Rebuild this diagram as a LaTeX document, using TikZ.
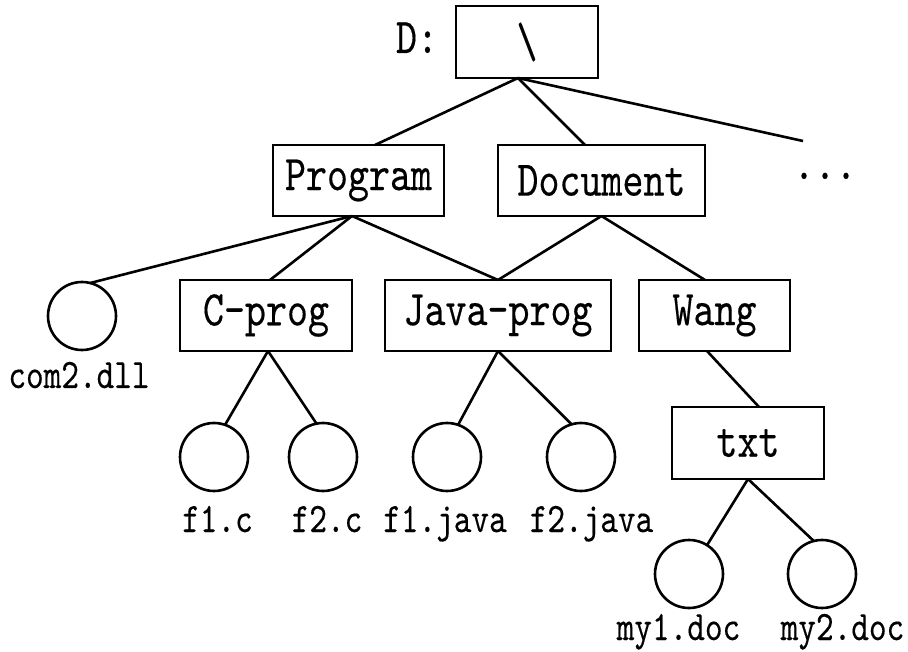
\documentclass[tikz,border=0pt]{standalone}
\usepackage{fontspec}
\newfontfamily\treefont[FakeStretch=0.8,FakeBold=0.3]{lmmono10-regular.otf}
\tikzset{
  every picture/.style={x=1pt,y=-1pt},
  conn/.style={line width=2.6pt},
  dirbox/.style={draw,line width=2.6pt,rectangle,inner sep=0pt,outer sep=0pt,
    font=\treefont\fontsize{50}{50}\selectfont},
  filecirc/.style={draw,line width=2.6pt,circle,inner sep=0pt,outer sep=0pt,minimum size=68pt},
  flabel/.style={anchor=base,inner sep=0pt,font=\treefont\fontsize{42}{42}\selectfont},
  blabel/.style={anchor=base,inner sep=0pt,font=\treefont\fontsize{50}{50}\selectfont}
}
\begin{document}
\begin{tikzpicture}
\useasboundingbox (0,0) rectangle (908,652);
% directory boxes
\node[dirbox,minimum width=142pt,minimum height=72pt] (root) at (527,42) {\textbackslash};
\node[blabel] (drive) at (417,53) {D:};
\node[dirbox,minimum width=171pt,minimum height=71pt] (prog) at (358.5,180.5) {Program};
\node[dirbox,minimum width=207pt,minimum height=71pt] (doc) at (601.5,180.5) {Document};
\node[blabel] (dots) at (825,179) {...};
\node[dirbox,minimum width=172pt,minimum height=71pt] (cprog) at (266,315.5) {C-prog};
\node[dirbox,minimum width=226pt,minimum height=71pt] (jprog) at (498,315.5) {Java-prog};
\node[dirbox,minimum width=151pt,minimum height=71pt] (wang) at (714.5,315.5) {Wang};
\node[dirbox,minimum width=152pt,minimum height=72pt] (txt) at (748,443) {txt};
% files
\node[filecirc] (com) at (82,316) {};
\node[filecirc] (fc1) at (214,457) {};
\node[filecirc] (fc2) at (323,457) {};
\node[filecirc] (fj1) at (447,457) {};
\node[filecirc] (fj2) at (581,457) {};
\node[filecirc] (my1) at (689,574) {};
\node[filecirc] (my2) at (822,574) {};
% file labels
\node[flabel] (lcom) at (79,388) {com2.dll};
\node[flabel] (lfc1) at (217.5,532) {f1.c};
\node[flabel] (lfc2) at (327,532) {f2.c};
\node[flabel] (lfj1) at (445,532) {f1.java};
\node[flabel] (lfj2) at (591.5,532) {f2.java};
\node[flabel] (lmy1) at (678.5,640) {my1.doc};
\node[flabel] (lmy2) at (842.5,640) {my2.doc};
\coordinate (more) at (803,141);
% connectors
\draw[conn] ([xshift=-9pt]root.south) -- ([xshift=16.5pt]prog.north);
\draw[conn] ([xshift=-9pt]root.south) -- ([xshift=-16.5pt]doc.north);
\draw[conn] ([xshift=-9pt]root.south) -- (more);
\draw[conn] ([xshift=-6.5pt]prog.south) -- (com.76);
\draw[conn] ([xshift=-6.5pt]prog.south) -- ([xshift=4pt]cprog.north);
\draw[conn] ([xshift=-6.5pt]prog.south) -- (jprog.north);
\draw[conn] (doc.south) -- (jprog.north);
\draw[conn] (doc.south) -- ([xshift=-9.5pt]wang.north);
\draw[conn] ([xshift=2pt]cprog.south) -- (fc1.71);
\draw[conn] ([xshift=2pt]cprog.south) -- (fc2.101);
\draw[conn] (jprog.south) -- (fj1.71);
\draw[conn] (jprog.south) -- (fj2.106);
\draw[conn] ([xshift=-7.5pt]wang.south) -- ([xshift=11pt]txt.north);
\draw[conn] (txt.south) -- (my1.58);
\draw[conn] (txt.south) -- (my2.104);
\end{tikzpicture}
\end{document}
